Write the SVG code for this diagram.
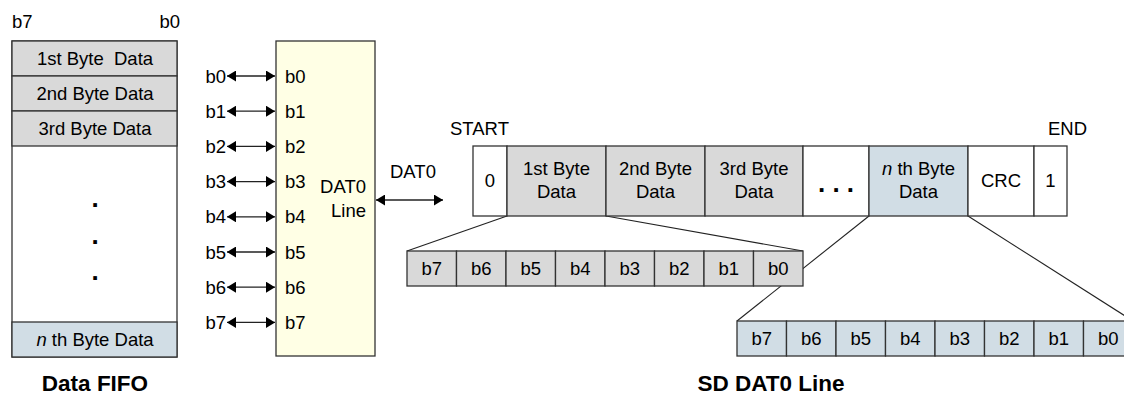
<svg xmlns="http://www.w3.org/2000/svg" width="1124" height="396" viewBox="0 0 1124 396">
<defs>
<style>
text{font-family:"Liberation Sans",Arial,sans-serif;font-size:18.5px;fill:#000}
.c{text-anchor:middle}
.e{text-anchor:end}
.b{font-weight:bold;font-size:22.5px}
.dot{font-weight:bold;font-size:26px}
.box{stroke:#333;stroke-width:1.3}
.g{fill:#d9d9d9}
.bl{fill:#d1dde5}
.w{fill:#fff}
.y{fill:#ffffe5}
.ln{stroke:#222;stroke-width:1.1;fill:none}
.ar{stroke:#222;stroke-width:1.3;fill:none;marker-start:url(#ah);marker-end:url(#ah)}
</style>
<marker id="ah" viewBox="0 0 9 11" refX="9" refY="5.5" markerWidth="9" markerHeight="11" markerUnits="userSpaceOnUse" orient="auto-start-reverse">
<path d="M0,0 L9,5.5 L0,11 Z" fill="#000"/>
</marker>
</defs>

<g id="connectors">
<line class="ln" x1="507" y1="216" x2="407" y2="251"/>
<line class="ln" x1="606" y1="216" x2="803" y2="251"/>
<line class="ln" x1="869" y1="216" x2="737" y2="321"/>
<line class="ln" x1="968" y1="216" x2="1133" y2="321"/>
<line class="ar" x1="227" y1="76" x2="275" y2="76"/>
<line class="ar" x1="227" y1="111.2" x2="275" y2="111.2"/>
<line class="ar" x1="227" y1="146.4" x2="275" y2="146.4"/>
<line class="ar" x1="227" y1="181.6" x2="275" y2="181.6"/>
<line class="ar" x1="227" y1="216.8" x2="275" y2="216.8"/>
<line class="ar" x1="227" y1="252" x2="275" y2="252"/>
<line class="ar" x1="227" y1="287.2" x2="275" y2="287.2"/>
<line class="ar" x1="227" y1="322.4" x2="275" y2="322.4"/>
<line class="ar" x1="376" y1="200" x2="443" y2="200"/>
<text x="390" y="178">DAT0</text>
</g>

<g id="fifo">
<text x="12" y="28">b7</text>
<text x="180" y="28" class="e">b0</text>
<rect class="box w" x="12" y="41" width="165" height="316"/>
<rect class="box g" x="12" y="41" width="165" height="35"/>
<rect class="box g" x="12" y="76" width="165" height="35"/>
<rect class="box g" x="12" y="111" width="165" height="35"/>
<rect class="box bl" x="12" y="322" width="165" height="35"/>
<text x="95" y="64.5" class="c" xml:space="preserve">1st Byte  Data</text>
<text x="95" y="99.5" class="c">2nd Byte Data</text>
<text x="95" y="134.5" class="c">3rd Byte Data</text>
<text x="95" y="207" class="c dot">.</text>
<text x="95" y="244" class="c dot">.</text>
<text x="95" y="280" class="c dot">.</text>
<text x="95" y="346" class="c"><tspan font-style="italic">n</tspan> th Byte Data</text>
<text x="95" y="391" class="c b">Data FIFO</text>
</g>

<g id="bit-labels">
<text x="226" y="82.5" class="e">b0</text>
<text x="226" y="117.7" class="e">b1</text>
<text x="226" y="152.9" class="e">b2</text>
<text x="226" y="188.1" class="e">b3</text>
<text x="226" y="223.3" class="e">b4</text>
<text x="226" y="258.5" class="e">b5</text>
<text x="226" y="293.7" class="e">b6</text>
<text x="226" y="328.9" class="e">b7</text>
</g>

<g id="dat0-line">
<rect class="box y" x="276" y="41" width="99" height="315"/>
<text x="285" y="82.5">b0</text>
<text x="285" y="117.7">b1</text>
<text x="285" y="152.9">b2</text>
<text x="285" y="188.1">b3</text>
<text x="285" y="223.3">b4</text>
<text x="285" y="258.5">b5</text>
<text x="285" y="293.7">b6</text>
<text x="285" y="328.9">b7</text>
<text x="366" y="193" class="e">DAT0</text>
<text x="366" y="217" class="e">Line</text>
</g>

<g id="frame">
<text x="450" y="135">START</text>
<text x="1048" y="135">END</text>
<rect class="box w" x="473" y="146" width="34" height="70"/>
<rect class="box g" x="507" y="146" width="99" height="70"/>
<rect class="box g" x="606" y="146" width="99" height="70"/>
<rect class="box g" x="705" y="146" width="98" height="70"/>
<rect class="box w" x="803" y="146" width="66" height="70"/>
<rect class="box bl" x="869" y="146" width="99" height="70"/>
<rect class="box w" x="968" y="146" width="66" height="70"/>
<rect class="box w" x="1034" y="146" width="33" height="70"/>
<text x="490" y="187" class="c">0</text>
<text x="556.5" y="175" class="c">1st Byte</text>
<text x="556.5" y="198" class="c">Data</text>
<text x="655.5" y="175" class="c">2nd Byte</text>
<text x="655.5" y="198" class="c">Data</text>
<text x="754" y="175" class="c">3rd Byte</text>
<text x="754" y="198" class="c">Data</text>
<text x="836" y="192" class="c dot" xml:space="preserve">. . .</text>
<text x="918.5" y="175" class="c"><tspan font-style="italic">n</tspan> th Byte</text>
<text x="918.5" y="198" class="c">Data</text>
<text x="1001" y="187" class="c">CRC</text>
<text x="1050.5" y="187" class="c">1</text>
<text x="771" y="391" class="c b">SD DAT0 Line</text>
</g>

<g id="byte1-bits">
<rect class="box g" x="407" y="251" width="49.5" height="35"/>
<rect class="box g" x="456.5" y="251" width="49.5" height="35"/>
<rect class="box g" x="506" y="251" width="49.5" height="35"/>
<rect class="box g" x="555.5" y="251" width="49.5" height="35"/>
<rect class="box g" x="605" y="251" width="49.5" height="35"/>
<rect class="box g" x="654.5" y="251" width="49.5" height="35"/>
<rect class="box g" x="704" y="251" width="49.5" height="35"/>
<rect class="box g" x="753.5" y="251" width="49.5" height="35"/>
<text x="431.75" y="275" class="c">b7</text>
<text x="481.25" y="275" class="c">b6</text>
<text x="530.75" y="275" class="c">b5</text>
<text x="580.25" y="275" class="c">b4</text>
<text x="629.75" y="275" class="c">b3</text>
<text x="679.25" y="275" class="c">b2</text>
<text x="728.75" y="275" class="c">b1</text>
<text x="778.25" y="275" class="c">b0</text>
</g>

<g id="byten-bits">
<rect class="box bl" x="737" y="321" width="49.5" height="35"/>
<rect class="box bl" x="786.5" y="321" width="49.5" height="35"/>
<rect class="box bl" x="836" y="321" width="49.5" height="35"/>
<rect class="box bl" x="885.5" y="321" width="49.5" height="35"/>
<rect class="box bl" x="935" y="321" width="49.5" height="35"/>
<rect class="box bl" x="984.5" y="321" width="49.5" height="35"/>
<rect class="box bl" x="1034" y="321" width="49.5" height="35"/>
<rect class="box bl" x="1083.5" y="321" width="49.5" height="35"/>
<text x="761.75" y="345" class="c">b7</text>
<text x="811.25" y="345" class="c">b6</text>
<text x="860.75" y="345" class="c">b5</text>
<text x="910.25" y="345" class="c">b4</text>
<text x="959.75" y="345" class="c">b3</text>
<text x="1009.25" y="345" class="c">b2</text>
<text x="1058.75" y="345" class="c">b1</text>
<text x="1108.25" y="345" class="c">b0</text>
</g>
</svg>
